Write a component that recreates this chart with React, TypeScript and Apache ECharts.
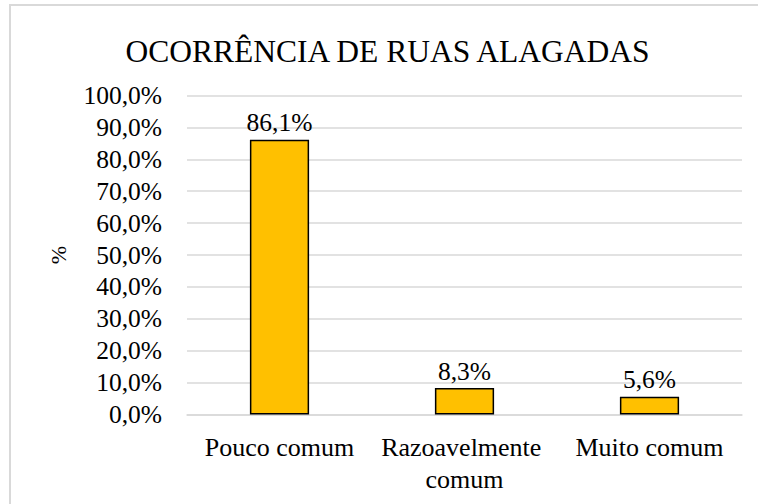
import React, { useEffect, useRef } from "react";
import * as echarts from "echarts";

const title = "OCORRÊNCIA DE RUAS ALAGADAS";
const categories = ["Pouco comum", "Razoavelmente comum", "Muito comum"];
const values = [86.1, 8.3, 5.6];
const yAxisName = "%";
const yMin = 0;
const yMax = 100;
const yInterval = 10;

const fmt = (v: number) => v.toFixed(1).replace(".", ",") + "%";
const FONT = "Liberation Serif, Times New Roman, serif";

export default function App() {
  const ref = useRef<HTMLDivElement>(null);
  useEffect(() => {
    if (!ref.current) return;
    const chart = echarts.init(ref.current, null, { renderer: "svg" });
    chart.setOption({
      animation: false,
      backgroundColor: "#ffffff",
      textStyle: { fontFamily: FONT },
      graphic: [
        {
          type: "rect",
          shape: { x: 10, y: 5, width: 770, height: 520 },
          style: { fill: "none", stroke: "#d9d9d9", lineWidth: 2 },
          silent: true,
        },
        {
          type: "text",
          x: 387.5,
          y: 51,
          style: {
            text: title,
            fontFamily: FONT,
            fontSize: 31.5,
            fill: "#000000",
            textAlign: "center",
            textVerticalAlign: "middle",
          },
        },
      ],
      grid: { left: 187, right: 16, top: 95.5, bottom: 89.5, containLabel: false },
      xAxis: {
        type: "category",
        data: categories,
        axisLine: { show: true, lineStyle: { color: "#d9d9d9", width: 1.5 } },
        axisTick: { show: false },
        axisLabel: {
          color: "#000000",
          fontFamily: FONT,
          fontSize: 26,
          margin: 17,
          width: 182,
          overflow: "break",
          lineHeight: 32,
          interval: 0,
        },
      },
      yAxis: {
        type: "value",
        min: yMin,
        max: yMax,
        interval: yInterval,
        name: yAxisName,
        nameLocation: "middle",
        nameRotate: 90,
        nameGap: 118,
        nameTextStyle: { color: "#000000", fontFamily: FONT, fontSize: 22 },
        axisLine: { show: false },
        axisTick: { show: false },
        splitLine: { lineStyle: { color: "#d9d9d9", width: 1.5 } },
        axisLabel: {
          color: "#000000",
          fontFamily: FONT,
          fontSize: 25.5,
          margin: 25,
          formatter: (v: number) => fmt(v),
        },
      },
      series: [
        {
          type: "bar",
          data: values,
          barWidth: "32%",
          itemStyle: { color: "#FFC000", borderColor: "#000000", borderWidth: 1.5 },
          label: {
            show: true,
            position: "top",
            distance: 4,
            color: "#000000",
            fontFamily: FONT,
            fontSize: 25.5,
            formatter: (p: any) => fmt(p.value),
          },
        },
      ],
    });
    return () => chart.dispose();
  }, []);
  return (
    <div
      ref={ref}
      style={{ position: "fixed", left: 0, top: 0, width: 758, height: 504 }}
    />
  );
}
